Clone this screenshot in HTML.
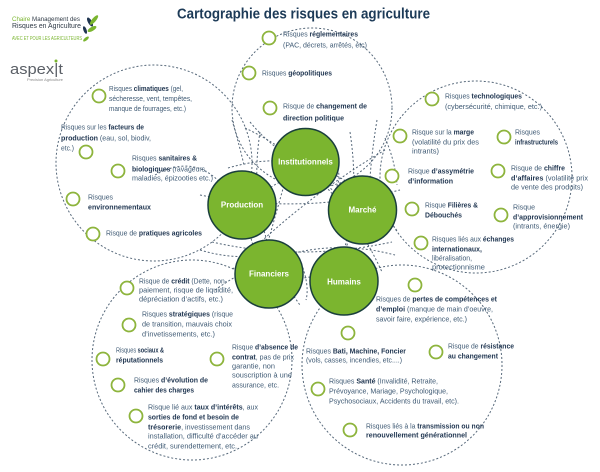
<!DOCTYPE html>
<html><head><meta charset="utf-8"><style>
html,body{margin:0;padding:0;background:#fff;}
svg{display:block;}
.t{font-family:"Liberation Sans",sans-serif;font-size:7.2px;fill:#3f5a74;}
.t tspan.b,.b{font-weight:bold;fill:#1f3550;}
.n{font-family:"Liberation Sans",sans-serif;font-size:8px;font-weight:bold;fill:#fff;}
</style></head><body>
<svg width="600" height="472" viewBox="0 0 600 472" xmlns="http://www.w3.org/2000/svg">
<rect width="600" height="472" fill="#fff"/>
<!-- Title -->
<text x="177" y="18.5" textLength="253" lengthAdjust="spacingAndGlyphs" font-family="Liberation Sans, sans-serif" font-size="14.5" font-weight="bold" fill="#1c3a57">Cartographie des risques en agriculture</text>

<!-- Logos -->
<text x="12" y="21" textLength="68" lengthAdjust="spacingAndGlyphs" font-family="Liberation Sans, sans-serif" font-size="6" fill="#2f3a46"><tspan fill="#7ab52f">Chaire</tspan> Management des</text>
<text x="12" y="28" textLength="69" lengthAdjust="spacingAndGlyphs" font-family="Liberation Sans, sans-serif" font-size="7" fill="#2f3a46">Risques en Agriculture</text>
<text x="12" y="40" textLength="70" lengthAdjust="spacingAndGlyphs" font-family="Liberation Sans, sans-serif" font-size="5" fill="#7ab52f">AVEC ET POUR LES AGRICULTEURS</text>
<ellipse cx="90" cy="22" rx="2" ry="5" fill="#1f3550" transform="rotate(-30 90 22)"/>
<ellipse cx="94" cy="20" rx="2" ry="6" fill="#7ab52f" transform="rotate(40 94 20)"/>
<ellipse cx="92" cy="29" rx="2" ry="5" fill="#7ab52f" transform="rotate(60 92 29)"/>
<ellipse cx="85" cy="30" rx="1.6" ry="4" fill="#1f3550" transform="rotate(-20 85 30)"/>
<ellipse cx="86" cy="39" rx="1.5" ry="3.5" fill="#7ab52f" transform="rotate(50 86 39)"/>
<text x="10" y="74" textLength="53" lengthAdjust="spacingAndGlyphs" font-family="Liberation Sans, sans-serif" font-size="15" fill="#5a5f66">aspex|t</text>
<circle cx="56" cy="61" r="1.5" fill="#7ab52f"/>
<text x="27" y="81" textLength="36" lengthAdjust="spacingAndGlyphs" font-family="Liberation Sans, sans-serif" font-size="3.5" fill="#888">Precision Agriculture</text>

<!-- Big dashed circles -->
<g fill="none" stroke="#56687a" stroke-width="1" stroke-dasharray="2 2">
<circle cx="312" cy="108" r="80"/>
<circle cx="154" cy="163" r="98"/>
<circle cx="476" cy="177" r="96"/>
<circle cx="192" cy="360" r="100"/>
<circle cx="402" cy="365" r="100"/>
<!-- inner network -->
<circle cx="300" cy="228" r="50"/>
<path d="M200,195 Q300,215 400,190"/>
<path d="M260,132 Q245,230 300,305"/>
<path d="M350,132 Q365,230 320,305"/>
<path d="M212,242 Q300,262 392,242"/>
<path d="M228,168 Q330,138 398,232"/>
<path d="M245,128 Q335,170 382,272"/>
<path d="M155,175 Q200,150 230,195"/>
<path d="M215,290 Q300,230 395,255"/>
<path d="M385,150 Q300,200 232,270"/>
<path d="M300,128 Q280,200 250,305"/>
<path d="M232,120 Q238,140 244,165"/>
<path d="M250,122 Q265,140 280,150"/>
<path d="M377,120 Q372,150 370,178"/>
<path d="M385,138 Q395,160 397,185"/>
<path d="M200,250 Q240,262 270,252"/>
<path d="M300,260 Q310,285 306,300"/>
<path d="M335,190 Q345,172 330,160"/>
</g>

<!-- Green nodes -->
<g fill="#7bb52f" stroke="#1a3f3c" stroke-width="1.5">
<circle cx="305.5" cy="162" r="33.5"/>
<circle cx="242" cy="205" r="34"/>
<circle cx="362.5" cy="210" r="34"/>
<circle cx="269" cy="274" r="34"/>
<circle cx="344" cy="281" r="34"/>
</g>
<text class="n" x="305.5" y="164.5" text-anchor="middle">Institutionnels</text>
<text class="n" x="242" y="207.5" text-anchor="middle">Production</text>
<text class="n" x="362.5" y="212.5" text-anchor="middle">Marché</text>
<text class="n" x="269" y="276.5" text-anchor="middle">Financiers</text>
<text class="n" x="344" y="284.5" text-anchor="middle">Humains</text>

<!-- Bullets -->
<g fill="#fff" stroke="#8db43c" stroke-width="1.8">
<circle cx="269" cy="38" r="6.5"/>
<circle cx="249" cy="73" r="6.5"/>
<circle cx="270" cy="108" r="6.5"/>
<circle cx="99" cy="96" r="6.5"/>
<circle cx="86" cy="152" r="6.5"/>
<circle cx="118" cy="171" r="6.5"/>
<circle cx="73" cy="199" r="6.5"/>
<circle cx="93" cy="234" r="6.5"/>
<circle cx="432" cy="99" r="6.5"/>
<circle cx="400" cy="136" r="6.5"/>
<circle cx="504" cy="137" r="6.5"/>
<circle cx="392" cy="176" r="6.5"/>
<circle cx="498" cy="171" r="6.5"/>
<circle cx="412" cy="209" r="6.5"/>
<circle cx="501" cy="215" r="6.5"/>
<circle cx="421" cy="243" r="6.5"/>
<circle cx="127" cy="288" r="6.5"/>
<circle cx="129" cy="325" r="6.5"/>
<circle cx="103" cy="359" r="6.5"/>
<circle cx="217" cy="359" r="6.5"/>
<circle cx="118" cy="385" r="6.5"/>
<circle cx="136" cy="416" r="6.5"/>
<circle cx="415" cy="285" r="6.5"/>
<circle cx="348" cy="333" r="6.5"/>
<circle cx="436" cy="352" r="6.5"/>
<circle cx="318" cy="389" r="6.5"/>
<circle cx="350" cy="430" r="6.5"/>
</g>

<!-- Labels -->
<g class="t">
<text class="t" x="283" y="36.5" textLength="75" lengthAdjust="spacingAndGlyphs">Risques <tspan class="b">réglementaires</tspan></text>
<text class="t" x="283" y="47.5" textLength="84" lengthAdjust="spacingAndGlyphs">(PAC, décrets, arrêtés, etc)</text>
<text class="t" x="262" y="75.5" textLength="70" lengthAdjust="spacingAndGlyphs">Risques <tspan class="b">géopolitiques</tspan></text>
<text class="t" x="283" y="108.5" textLength="84" lengthAdjust="spacingAndGlyphs">Risque de <tspan class="b">changement de</tspan></text>
<text class="t" x="283" y="120.5" textLength="61" lengthAdjust="spacingAndGlyphs"><tspan class="b">direction politique</tspan></text>

<text class="t" x="109" y="91" textLength="74" lengthAdjust="spacingAndGlyphs">Risques <tspan class="b">climatiques</tspan> (gel,</text>
<text class="t" x="109" y="101" textLength="83" lengthAdjust="spacingAndGlyphs">sécheresse, vent, tempêtes,</text>
<text class="t" x="109" y="111" textLength="77" lengthAdjust="spacingAndGlyphs">manque de fourrages, etc.)</text>
<text class="t" x="61" y="129.5" textLength="83" lengthAdjust="spacingAndGlyphs">Risques sur les <tspan class="b">facteurs de</tspan></text>
<text class="t" x="61" y="140.5" textLength="90" lengthAdjust="spacingAndGlyphs"><tspan class="b">production</tspan> (eau, sol, biodiv,</text>
<text class="t" x="61" y="150.5" textLength="13" lengthAdjust="spacingAndGlyphs">etc.)</text>
<text class="t" x="132" y="160.5" textLength="65" lengthAdjust="spacingAndGlyphs">Risques <tspan class="b">sanitaires &amp;</tspan></text>
<text class="t" x="132" y="171.5" textLength="75" lengthAdjust="spacingAndGlyphs"><tspan class="b">biologiques</tspan> (ravageurs,</text>
<text class="t" x="132" y="180.5" textLength="81" lengthAdjust="spacingAndGlyphs">maladies, épizooties etc.)</text>
<text class="t" x="88" y="199.5" textLength="25" lengthAdjust="spacingAndGlyphs">Risques</text>
<text class="t" x="88" y="209.5" textLength="63" lengthAdjust="spacingAndGlyphs"><tspan class="b">environnementaux</tspan></text>
<text class="t" x="106" y="235.5" textLength="96" lengthAdjust="spacingAndGlyphs">Risque de <tspan class="b">pratiques agricoles</tspan></text>

<text class="t" x="445" y="98.5" textLength="77" lengthAdjust="spacingAndGlyphs">Risques <tspan class="b">technologiques</tspan></text>
<text class="t" x="445" y="109" textLength="97" lengthAdjust="spacingAndGlyphs">(cybersécurité, chimique, etc.)</text>
<text class="t" x="412" y="134.5" textLength="62" lengthAdjust="spacingAndGlyphs">Risque sur la <tspan class="b">marge</tspan></text>
<text class="t" x="412" y="144.5" textLength="67" lengthAdjust="spacingAndGlyphs">(volatilité du prix des</text>
<text class="t" x="412" y="153.5" textLength="27" lengthAdjust="spacingAndGlyphs">intrants)</text>
<text class="t" x="515" y="134.5" textLength="25" lengthAdjust="spacingAndGlyphs">Risques</text>
<text class="t" x="515" y="144.5" textLength="43" lengthAdjust="spacingAndGlyphs"><tspan class="b">infrastructurels</tspan></text>
<text class="t" x="408" y="173.5" textLength="66" lengthAdjust="spacingAndGlyphs">Risque <tspan class="b">d’assymétrie</tspan></text>
<text class="t" x="408" y="183.5" textLength="45" lengthAdjust="spacingAndGlyphs"><tspan class="b">d’information</tspan></text>
<text class="t" x="511" y="170.5" textLength="54" lengthAdjust="spacingAndGlyphs">Risque de <tspan class="b">chiffre</tspan></text>
<text class="t" x="511" y="180.5" textLength="77" lengthAdjust="spacingAndGlyphs"><tspan class="b">d’affaires</tspan> (volatilité prix</text>
<text class="t" x="511" y="189.5" textLength="72" lengthAdjust="spacingAndGlyphs">de vente des produits)</text>
<text class="t" x="425" y="207.5" textLength="53" lengthAdjust="spacingAndGlyphs">Risque <tspan class="b">Filières &amp;</tspan></text>
<text class="t" x="425" y="217.5" textLength="37" lengthAdjust="spacingAndGlyphs"><tspan class="b">Débouchés</tspan></text>
<text class="t" x="513" y="209.5" textLength="22" lengthAdjust="spacingAndGlyphs">Risque</text>
<text class="t" x="513" y="219.5" textLength="70" lengthAdjust="spacingAndGlyphs"><tspan class="b">d’approvisionnement</tspan></text>
<text class="t" x="513" y="228.5" textLength="57" lengthAdjust="spacingAndGlyphs">(intrants, énergie)</text>
<text class="t" x="432" y="241.5" textLength="82" lengthAdjust="spacingAndGlyphs">Risques liés aux <tspan class="b">échanges</tspan></text>
<text class="t" x="432" y="251.5" textLength="50" lengthAdjust="spacingAndGlyphs"><tspan class="b">internationaux,</tspan></text>
<text class="t" x="432" y="260.5" textLength="40" lengthAdjust="spacingAndGlyphs">libéralisation,</text>
<text class="t" x="432" y="269.5" textLength="53" lengthAdjust="spacingAndGlyphs">protectionnisme</text>

<text class="t" x="139" y="283.5" textLength="88" lengthAdjust="spacingAndGlyphs">Risque de <tspan class="b">crédit</tspan> (Dette, non-</text>
<text class="t" x="139" y="292.5" textLength="94" lengthAdjust="spacingAndGlyphs">paiement, risque de liquidité,</text>
<text class="t" x="139" y="301.5" textLength="84" lengthAdjust="spacingAndGlyphs">dépréciation d’actifs, etc.)</text>
<text class="t" x="142" y="316.5" textLength="91" lengthAdjust="spacingAndGlyphs">Risques <tspan class="b">stratégiques</tspan> (risque</text>
<text class="t" x="142" y="326.5" textLength="90" lengthAdjust="spacingAndGlyphs">de transition, mauvais choix</text>
<text class="t" x="142" y="336.5" textLength="73" lengthAdjust="spacingAndGlyphs">d’invetissements, etc.)</text>
<text class="t" x="116" y="352.5" textLength="48" lengthAdjust="spacingAndGlyphs">Risques <tspan class="b">sociaux &amp;</tspan></text>
<text class="t" x="116" y="362.5" textLength="47" lengthAdjust="spacingAndGlyphs"><tspan class="b">réputationnels</tspan></text>
<text class="t" x="232" y="349.5" textLength="66" lengthAdjust="spacingAndGlyphs">Risque <tspan class="b">d’absence de</tspan></text>
<text class="t" x="232" y="359.5" textLength="62" lengthAdjust="spacingAndGlyphs"><tspan class="b">contrat</tspan>, pas de prix</text>
<text class="t" x="232" y="368.5" textLength="43" lengthAdjust="spacingAndGlyphs">garantie, non</text>
<text class="t" x="232" y="377.5" textLength="60" lengthAdjust="spacingAndGlyphs">souscription à une</text>
<text class="t" x="232" y="387.5" textLength="47" lengthAdjust="spacingAndGlyphs">assurance, etc.</text>
<text class="t" x="134" y="382.5" textLength="74" lengthAdjust="spacingAndGlyphs">Risques <tspan class="b">d’évolution de</tspan></text>
<text class="t" x="134" y="392.5" textLength="60" lengthAdjust="spacingAndGlyphs"><tspan class="b">cahier des charges</tspan></text>
<text class="t" x="148" y="409.5" textLength="110" lengthAdjust="spacingAndGlyphs">Risque lié aux <tspan class="b">taux d’intérêts</tspan>, aux</text>
<text class="t" x="148" y="419.5" textLength="91" lengthAdjust="spacingAndGlyphs"><tspan class="b">sorties de fond et besoin de</tspan></text>
<text class="t" x="148" y="429.5" textLength="102" lengthAdjust="spacingAndGlyphs"><tspan class="b">trésorerie</tspan>, investissement dans</text>
<text class="t" x="148" y="438.5" textLength="110" lengthAdjust="spacingAndGlyphs">installation, difficulté d’accéder au</text>
<text class="t" x="148" y="448.5" textLength="89" lengthAdjust="spacingAndGlyphs">crédit, surendettement, etc.</text>

<text class="t" x="376" y="301.5" textLength="121" lengthAdjust="spacingAndGlyphs">Risques de <tspan class="b">pertes de compétences et</tspan></text>
<text class="t" x="376" y="311.5" textLength="117" lengthAdjust="spacingAndGlyphs"><tspan class="b">d’emploi</tspan> (manque de main d’oeuvre,</text>
<text class="t" x="376" y="321.5" textLength="91" lengthAdjust="spacingAndGlyphs">savoir faire, expérience, etc.)</text>
<text class="t" x="306" y="353.5" textLength="100" lengthAdjust="spacingAndGlyphs">Risques <tspan class="b">Bati, Machine, Foncier</tspan></text>
<text class="t" x="306" y="362.5" textLength="96" lengthAdjust="spacingAndGlyphs">(vols, casses, incendies, etc....)</text>
<text class="t" x="448" y="348.5" textLength="66" lengthAdjust="spacingAndGlyphs">Risque de <tspan class="b">résistance</tspan></text>
<text class="t" x="448" y="358.5" textLength="50" lengthAdjust="spacingAndGlyphs"><tspan class="b">au changement</tspan></text>
<text class="t" x="329" y="383.5" textLength="109" lengthAdjust="spacingAndGlyphs">Risques <tspan class="b">Santé</tspan> (Invalidité, Retraite,</text>
<text class="t" x="329" y="393.5" textLength="119" lengthAdjust="spacingAndGlyphs">Prévoyance, Mariage, Psychologique,</text>
<text class="t" x="329" y="403.5" textLength="130" lengthAdjust="spacingAndGlyphs">Psychosociaux, Accidents du travail, etc).</text>
<text class="t" x="366" y="428.5" textLength="118" lengthAdjust="spacingAndGlyphs">Risques liés à la <tspan class="b">transmission ou non</tspan></text>
<text class="t" x="366" y="437.5" textLength="101" lengthAdjust="spacingAndGlyphs"><tspan class="b">renouvellement générationnel</tspan></text>
</g>
</svg>
</body></html>
